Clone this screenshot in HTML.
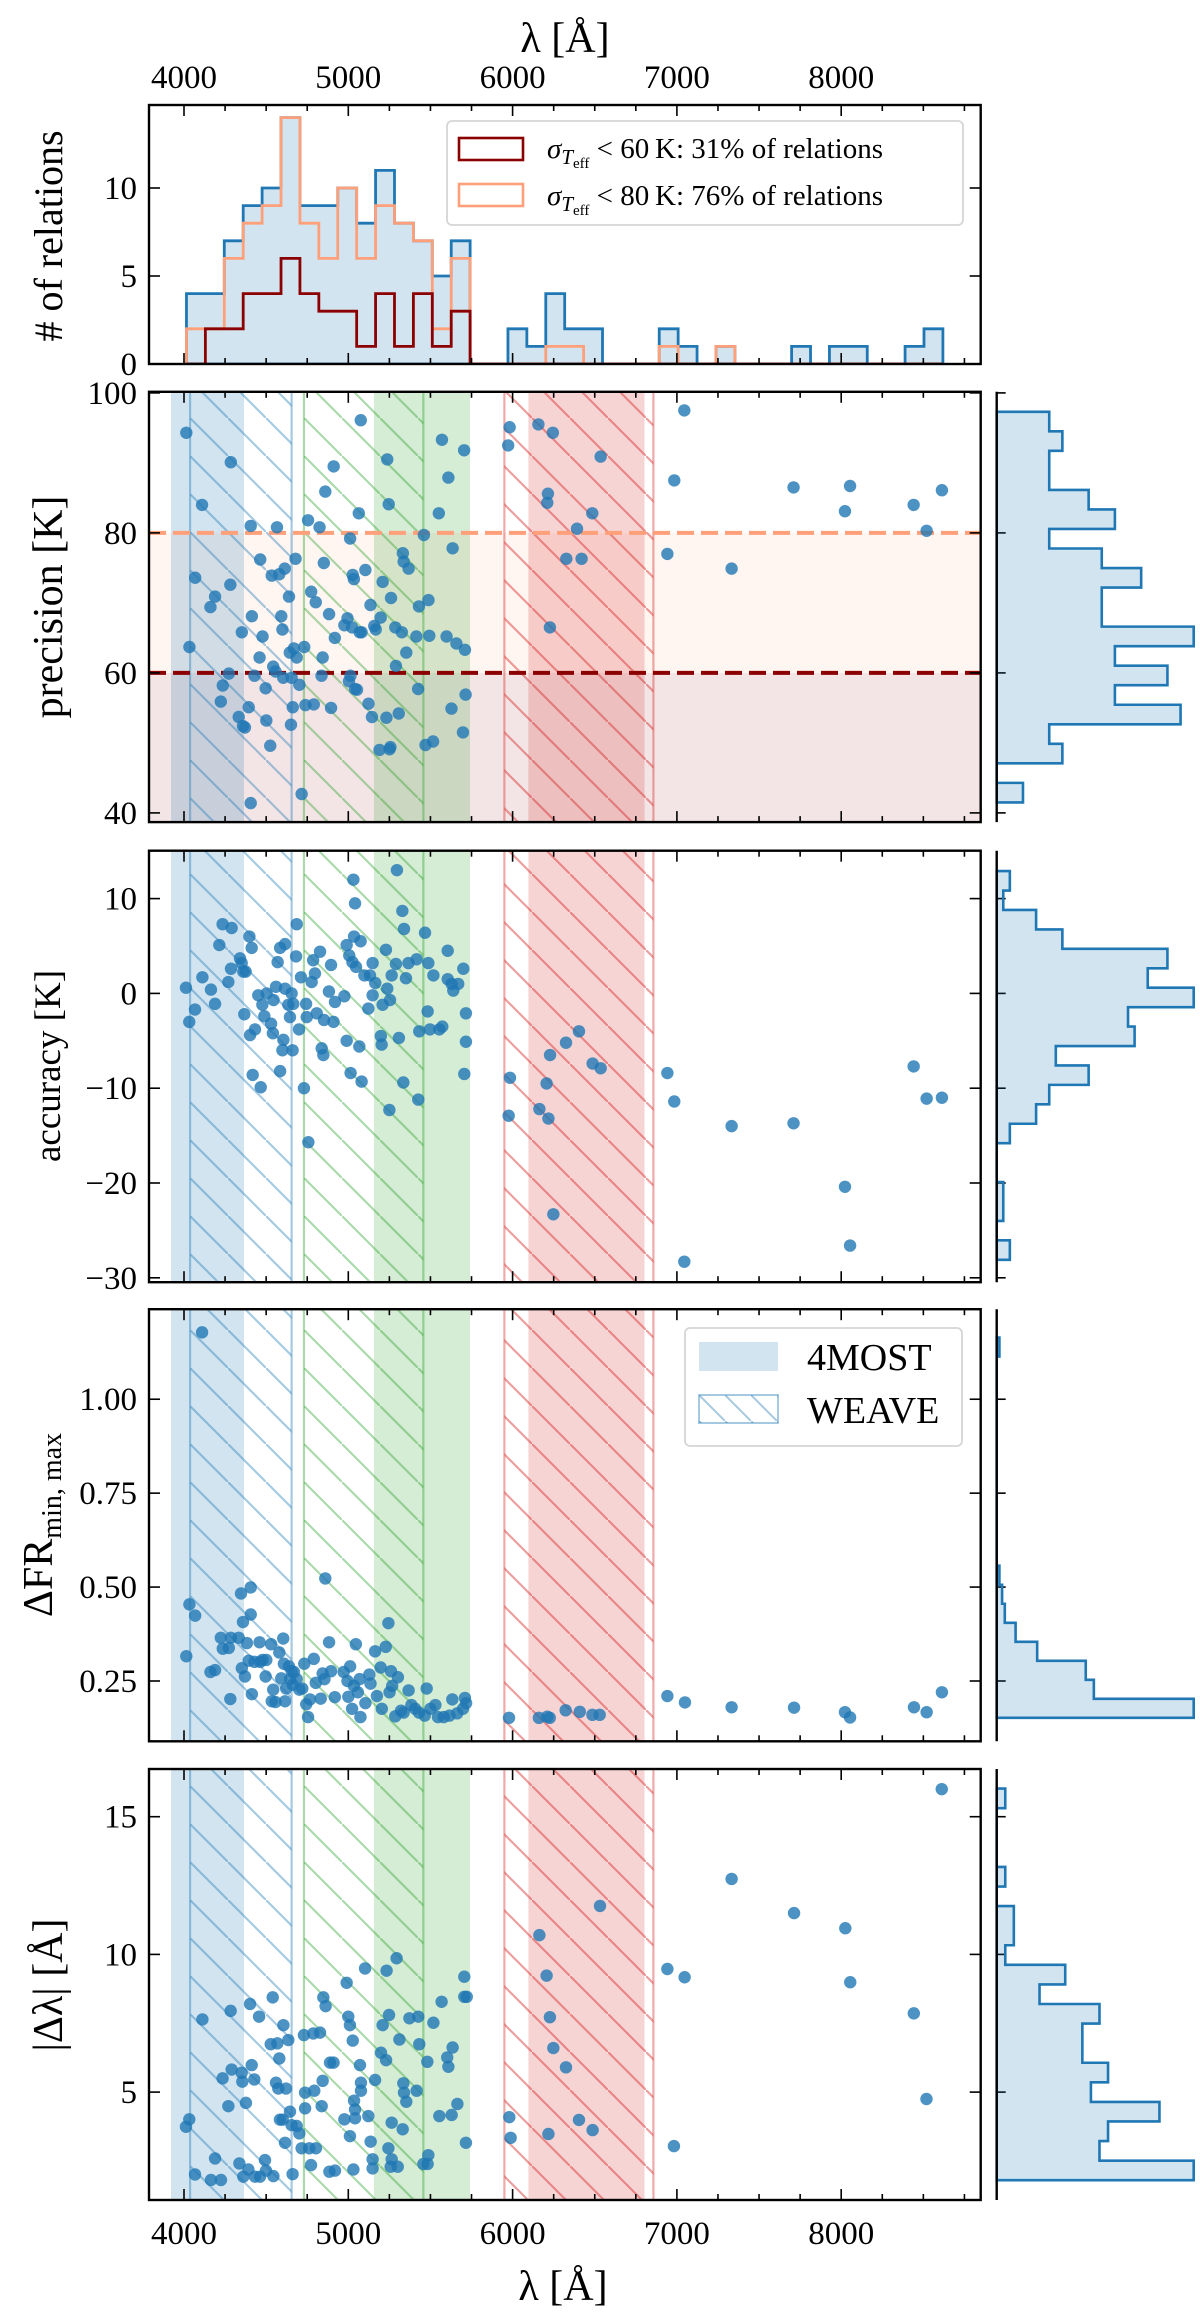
<!DOCTYPE html>
<html><head><meta charset="utf-8"><title>Spectral relations overview</title>
<style>
html,body{margin:0;padding:0;background:#fff;}
svg{display:block;font-family:"Liberation Serif","DejaVu Serif",serif;}
</style></head>
<body>
<svg id="fig" xmlns="http://www.w3.org/2000/svg" width="1200" height="2321" viewBox="0 0 1200 2321">
<defs>
<pattern id="hatch-b" patternUnits="userSpaceOnUse" width="38" height="38"><path d="M-5,-5 L43,43" stroke="#1f77b4" stroke-opacity="0.4" stroke-width="2.2"/></pattern>
<pattern id="hatch-g" patternUnits="userSpaceOnUse" width="38" height="38"><path d="M-5,-5 L43,43" stroke="#2ca02c" stroke-opacity="0.4" stroke-width="2.2"/></pattern>
<pattern id="hatch-r" patternUnits="userSpaceOnUse" width="38" height="38"><path d="M-5,-5 L43,43" stroke="#d62728" stroke-opacity="0.45" stroke-width="2.2"/></pattern>
<pattern id="hatch-leg" patternUnits="userSpaceOnUse" width="26" height="26" x="699" y="1395"><path d="M-5,-5 L31,31" stroke="#1f77b4" stroke-opacity="0.4" stroke-width="2"/></pattern>
</defs>
<g id="layer"></g>
</svg>
<script>
// ---------- data ----------
const histStart = 4015;
const histWidth = 115.1;
const histAll = [4,4,7,9,10,14,9,9,10,8,11,8,7,5,7,0,0,2,1,4,2,2,0,0,0,2,1,0,1,0,0,0,1,0,1,1,0,0,1,2];
const hist80 = [2,2,6,8,9,14,8,6,10,6,9,8,7,2,6,0,0,0,0,1,1,0,0,0,0,1,0,0,1,0,0,0,0,0,0,0,0,0,0,0];
const hist60 = [0,2,2,4,4,6,4,3,3,1,4,1,4,1,3,0,0,0,0,0,0,0,0,0,0,0,0,0,0,0,0,0,0,0,0,0,0,0,0,0];

const precLam = [4014,4033,4068,4110,4161,4189,4224,4236,4273,4282,4285,4333,4352,4359,4371,4394,4406,4413,4429,4460,4464,4478,4497,4501,4525,4534,4543,4557,4566,4580,4592,4599,4604,4613,4639,4644,4651,4655,4662,4669,4679,4686,4702,4716,4732,4739,4755,4774,4790,4802,4825,4837,4844,4851,4860,4883,4895,4911,4918,4976,4995,5004,5011,5013,5023,5027,5034,5041,5053,5064,5069,5076,5081,5104,5123,5135,5144,5158,5167,5190,5197,5209,5232,5237,5246,5251,5256,5260,5286,5290,5307,5326,5332,5337,5353,5367,5414,5425,5430,5460,5470,5488,5493,5516,5551,5570,5598,5609,5628,5635,5658,5698,5705,5710,5714,4406,5973,5982,6157,6215,6211,6227,6245,6327,6392,6420,6485,6536,7045,6984,6942,7333,7710,8054,8023,8441,8520,8613];
const precVal = [94.3,63.7,73.6,84.0,69.4,70.9,55.9,58.2,59.9,72.6,90.1,53.7,65.8,52.4,52.2,55.1,81.0,68.1,59.6,62.2,76.2,65.2,57.8,53.2,49.6,73.9,60.9,60.2,80.8,74.1,68.1,66.2,59.3,74.9,70.9,62.9,52.6,59.3,55.1,63.5,76.3,62.2,58.3,42.7,63.7,55.4,81.8,71.6,55.5,70.1,80.8,59.6,62.2,75.7,85.9,68.4,55.0,89.5,65.0,66.8,67.8,58.8,79.2,59.6,66.5,74.0,73.4,57.7,57.6,82.8,65.8,96.1,65.8,74.7,55.6,69.7,53.7,66.7,66.2,49.0,67.9,73.0,53.6,90.5,84.1,49.1,49.4,70.7,66.5,61.0,54.2,65.8,77.1,75.9,62.9,74.9,65.2,57.7,69.5,79.7,49.7,70.4,65.3,50.2,82.8,93.3,65.2,87.9,54.9,77.8,64.2,51.5,91.8,63.3,56.9,41.4,92.5,95.1,95.5,85.6,84.3,66.5,94.3,76.3,80.6,76.3,82.8,90.9,97.5,87.5,77.0,74.9,86.5,86.7,83.1,84.0,80.3,86.1];

const accLam = [4012,4032,4067,4112,4164,4189,4215,4235,4270,4290,4286,4341,4351,4361,4375,4367,4398,4412,4402,4418,4432,4452,4467,4477,4489,4503,4530,4541,4545,4560,4570,4585,4585,4599,4605,4615,4615,4635,4645,4655,4661,4665,4682,4686,4700,4712,4730,4743,4747,4757,4777,4786,4797,4808,4828,4838,4848,4852,4882,4895,4910,4919,4976,4990,4990,5006,5014,5025,5031,5035,5041,5047,5067,5075,5081,5098,5122,5132,5148,5148,5164,5198,5203,5209,5229,5237,5250,5254,5264,5290,5296,5308,5329,5335,5339,5351,5366,5416,5426,5432,5467,5483,5487,5497,5518,5554,5572,5605,5605,5629,5639,5669,5700,5706,5716,5716,5984,5976,6163,6218,6207,6228,6248,6325,6404,6487,6536,6942,6984,7333,7710,8023,8054,7045,8441,8520,8613];
const accVal = [0.6,-3.0,-1.7,1.7,0.4,-1.1,5.1,7.3,1.2,6.9,2.6,3.7,3.2,2.3,2.3,-2.2,6.0,4.8,-4.4,-8.6,-3.8,-0.2,-9.9,-1.2,-2.4,0,-3.2,-4.2,-0.7,0.7,3.3,4.8,-8.2,-6.0,-4.9,5.2,0.5,-1.2,-2.5,0,-6.0,-1.1,3.9,7.3,-3.8,1.7,-10.0,-1.1,-2.5,-15.7,1.2,3.5,2.1,-2.1,4.4,-5.8,-6.5,-2.8,0.2,3.0,-3.0,-0.9,-0.3,5.1,-5.0,4.0,-8.4,3.3,12.0,6.0,9.5,2.8,-5.6,5.5,-9.3,1.9,-1.6,1.9,3.2,-0.2,1.1,-4.5,-5.4,-1.2,4.6,0.5,-12.3,-0.7,1.9,3.1,13.0,-4.7,8.7,-9.4,6.8,1.6,3.2,3.6,-11.2,-4.0,6.4,-1.9,3.2,-3.8,1.9,-3.8,-3.5,4.5,1.5,1.0,0.3,1.0,2.6,-8.5,-2.1,-5.1,-8.9,-12.9,-12.2,-13.2,-9.5,-6.5,-23.3,-5.2,-4.0,-7.4,-7.9,-8.4,-11.4,-14.0,-13.7,-20.4,-26.6,-28.3,-7.7,-11.1,-11.0];

const frLam = [4014,4033,4068,4110,4161,4189,4224,4236,4273,4282,4285,4333,4347,4352,4359,4371,4383,4394,4406,4406,4413,4429,4460,4464,4478,4497,4501,4530,4534,4543,4557,4580,4592,4604,4608,4615,4622,4639,4646,4655,4662,4669,4686,4702,4720,4732,4744,4755,4767,4790,4802,4832,4844,4855,4860,4883,4895,4918,4972,4995,5000,5011,5023,5034,5046,5058,5069,5074,5104,5128,5135,5163,5174,5197,5204,5228,5244,5251,5260,5267,5286,5302,5321,5337,5367,5384,5407,5430,5465,5477,5500,5530,5546,5581,5616,5633,5663,5698,5710,5717,5978,6160,6211,6226,6323,6409,6486,6530,6942,7049,7333,7713,8023,8054,8443,8520,8613];
const frVal = [0.316,0.454,0.424,1.178,0.274,0.279,0.365,0.336,0.338,0.202,0.365,0.365,0.483,0.284,0.407,0.262,0.351,0.304,0.499,0.427,0.215,0.301,0.353,0.301,0.306,0.262,0.306,0.348,0.196,0.227,0.194,0.326,0.257,0.363,0.296,0.196,0.230,0.289,0.255,0.276,0.240,0.274,0.255,0.227,0.230,0.296,0.188,0.154,0.201,0.309,0.245,0.203,0.270,0.255,0.523,0.353,0.276,0.207,0.274,0.250,0.208,0.289,0.176,0.237,0.348,0.220,0.255,0.154,0.191,0.267,0.243,0.329,0.210,0.286,0.176,0.341,0.404,0.220,0.276,0.237,0.156,0.260,0.171,0.166,0.225,0.186,0.176,0.166,0.158,0.230,0.176,0.186,0.154,0.154,0.158,0.201,0.164,0.176,0.205,0.191,0.152,0.152,0.155,0.152,0.172,0.168,0.160,0.160,0.210,0.193,0.180,0.179,0.167,0.153,0.180,0.167,0.220];

const dlLam = [4012,4032,4067,4112,4164,4189,4225,4235,4270,4284,4290,4337,4351,4355,4361,4377,4392,4402,4412,4428,4432,4457,4463,4493,4499,4528,4540,4544,4560,4568,4574,4580,4584,4601,4605,4615,4621,4635,4645,4655,4661,4686,4702,4716,4730,4737,4737,4763,4773,4787,4793,4803,4828,4838,4844,4848,4862,4885,4889,4910,4919,4976,4990,5000,5010,5010,5027,5031,5035,5041,5041,5071,5077,5077,5102,5122,5136,5148,5148,5163,5209,5199,5230,5233,5244,5248,5258,5264,5264,5294,5301,5311,5331,5335,5339,5353,5372,5416,5426,5432,5457,5487,5483,5481,5518,5554,5568,5602,5609,5629,5635,5664,5706,5706,5721,5716,6163,6207,6227,6248,6325,6404,6487,6218,5980,5988,6532,8612,7333,7713,8025,6942,7047,8055,8442,8519,6982];
const dlVal = [3.74,4.01,2.01,7.64,1.81,2.59,1.81,5.50,4.49,7.95,5.82,2.41,5.70,5.38,1.93,4.61,2.19,8.20,5.98,5.46,1.93,7.74,1.93,2.53,2.15,6.74,8.44,1.95,5.34,6.77,5.13,6.22,4.00,4.00,7.43,3.16,5.13,6.89,4.29,3.80,2.02,3.77,3.50,2.96,7.07,4.41,4.98,2.96,2.35,7.13,5.05,2.96,7.16,4.49,5.41,8.44,8.12,2.11,6.07,6.07,2.15,4.01,8.97,7.74,7.43,3.40,6.87,2.19,4.69,4.37,4.05,5.98,5.34,5.05,9.49,4.13,3.20,2.56,2.23,5.44,7.43,6.43,6.16,9.41,2.96,7.80,2.29,3.89,2.56,9.86,2.29,6.91,3.65,5.32,4.98,4.65,7.68,5.05,7.74,6.74,2.39,2.71,2.39,6.10,7.52,4.13,8.28,6.26,5.92,4.17,6.62,4.57,9.19,8.46,8.46,3.16,10.7,9.23,7.72,6.6,5.9,3.99,3.62,3.48,4.09,3.34,11.76,16.0,12.74,11.5,10.95,9.47,9.17,8.99,7.86,4.75,3.04];

// side histograms (bottom-up counts)
const precHistStart = 41.5, precHistWidth = 2.79;
const precHist = [2,0,5,4,14,9,13,9,15,8,8,11,8,4,9,7,4,4,5,4];
const accHistStart = -28.1, accHistWidth = 2.05;
const accHist = [2,0,1,1,0,0,2,6,8,14,9,21,20,30,23,26,10,6,1,2];
const frHistStart = 0.152, frHistWidth = 0.0506;
const frHist = [73,36,33,15,7,3,2,1,0,0,0,0,0,0,0,0,0,0,0,1];
const dlHistStart = 1.80, dlHistWidth = 0.711;
const dlHist = [23,12,13,19,11,13,10,10,12,5,8,1,2,2,0,1,0,0,0,1];

// survey ranges (Angstrom)
const fillBands = [[3921,4365,'#1f77b4'],[5156,5741,'#2ca02c'],[6096,6803,'#d62728']];
const hatchBands = [[4037,4655,'hatch-b','#1f77b4'],[4730,5457,'hatch-g','#2ca02c'],[5950,6857,'hatch-r','#d62728']];

const xTicks = [4000,5000,6000,7000,8000];
const xTickLabels = ['4000','5000','6000','7000','8000'];
const histYTicks = [0,5,10];
const precYTicks = [40,60,80,100];
const accYTicks = [10,0,-10,-20,-30];
const accYLabels = ['10','0','\u221210','\u221220','\u221230'];
const frYTicks = [0.25,0.5,0.75,1.0];
const frYLabels = ['0.25','0.50','0.75','1.00'];
const dlYTicks = [5,10,15];

// ---------- scales ----------
const XL = 149, XR = 980.7, HX = 996.7, HMAX = 197;
function xs(l){ return 184 + (l - 4000) * 0.1643; }
const P = {
  hist:{top:105,bot:364,ys:c=>364 - c*17.6},
  prec:{top:391.8,bot:822.1,ys:v=>392.9 + (100-v)*7.0},
  acc:{top:850.7,bot:1282.2,ys:v=>993.4 - v*9.48},
  fr:{top:1309.2,bot:1741.3,ys:v=>1681 - (v-0.25)*375.7},
  dl:{top:1769,bot:2200,ys:v=>1816.7 - (v-15)*27.54}
};
const NS = 'http://www.w3.org/2000/svg';
const root = document.getElementById('layer');
function el(tag, attrs, parent){
  const e = document.createElementNS(NS, tag);
  for (const k in attrs) e.setAttribute(k, attrs[k]);
  (parent||root).appendChild(e);
  return e;
}
function clip(id, p){
  const defs = document.querySelector('defs');
  const c = el('clipPath', {id:id}, defs);
  el('rect', {x:XL, y:p.top, width:XR-XL, height:p.bot-p.top}, c);
}

function xTicksDraw(g, p){
  for (let m = 3750; m <= 8850; m += 250){
    const x = xs(m); if (x < XL+1 || x > XR-1) continue;
    const len = (m % 1000 === 0) ? 11 : 6;
    el('line', {x1:x, y1:p.bot, x2:x, y2:p.bot-len, stroke:'#000','stroke-width':1.6}, g);
    el('line', {x1:x, y1:p.top, x2:x, y2:p.top+len, stroke:'#000','stroke-width':1.6}, g);
  }
}
function yTicksDraw(g, p, ticks, labels, withHist){
  ticks.forEach((t,i)=>{
    const y = p.ys(t);
    el('line', {x1:XL, y1:y, x2:XL+11, y2:y, stroke:'#000','stroke-width':1.6}, g);
    el('line', {x1:XR, y1:y, x2:XR-11, y2:y, stroke:'#000','stroke-width':1.6}, g);
    if (withHist) el('line', {x1:HX, y1:y, x2:HX+9, y2:y, stroke:'#000','stroke-width':1.6}, g);
    const tx = el('text', {x:137, y:y+11, 'text-anchor':'end','font-size':33}, g);
    tx.textContent = labels ? labels[i] : String(t);
  });
}
function bands(g, p){
  fillBands.forEach(b=>{
    const r = el('rect', {x:xs(b[0]), y:p.top, width:xs(b[1])-xs(b[0]), height:p.bot-p.top, fill:b[2], 'fill-opacity':0.2}, g);
    
    
  });
  hatchBands.forEach(b=>{
    const r = el('rect', {x:xs(b[0]), y:p.top, width:xs(b[1])-xs(b[0]), height:p.bot-p.top, fill:'url(#'+b[2]+')'}, g);
    
    
    [b[0],b[1]].forEach(l=>{
      el('line', {x1:xs(l), y1:p.top, x2:xs(l), y2:p.bot, stroke:b[3], 'stroke-opacity':0.4, 'stroke-width':2.2}, g);
    });
  });
}
function scatter(g, p, lam, val, name){
  const n = Math.min(lam.length, val.length);
  for (let i=0;i<n;i++){
    const c = el('circle', {cx:xs(lam[i]), cy:p.ys(val[i]), r:6.2, fill:'#1f77b4', 'fill-opacity':0.8}, g);
    
    
  }
}
function box(g, p){
  el('rect', {x:XL, y:p.top, width:XR-XL, height:p.bot-p.top, fill:'none', stroke:'#000','stroke-width':2.4}, g);
}
function sideHist(g, p, start, width, counts, name){
  const mx = Math.max(...counts);
  const k = HMAX / mx;
  let d = 'M' + HX + ',' + p.ys(start);
  for (let i=0;i<counts.length;i++){
    const y0 = p.ys(start + i*width), y1 = p.ys(start + (i+1)*width);
    const x = HX + counts[i]*k;
    d += ' L' + x + ',' + y0 + ' L' + x + ',' + y1;
  }
  d += ' L' + HX + ',' + p.ys(start + counts.length*width);
  const path = el('path', {d:d+' Z', fill:'#1f77b4','fill-opacity':0.2, stroke:'#1f77b4','stroke-width':2.6,'stroke-linejoin':'miter'}, g);
  
  
  el('line', {x1:HX, y1:p.top, x2:HX, y2:p.bot, stroke:'#000','stroke-width':2.4}, g);
}
function ylabel(g, text, cx, cy, size){
  const t = el('text', {x:0, y:0, 'text-anchor':'middle','font-size':size, transform:'translate('+cx+','+cy+') rotate(-90)'}, g);
  if (typeof text === 'string') t.textContent = text;
  else text(t);
  return t;
}

// ---------- top histogram ----------
(function(){
  const p = P.hist;
  const g = el('g', {});
  
  
  clip('c-hist', p);
  const gi = el('g', {'clip-path':'url(#c-hist)'}, g);
  function stepPath(counts){
    let d = 'M' + xs(histStart) + ',' + p.ys(0);
    counts.forEach((c,i)=>{
      const x0 = xs(histStart + i*histWidth), x1 = xs(histStart + (i+1)*histWidth);
      d += ' L' + x0 + ',' + p.ys(c) + ' L' + x1 + ',' + p.ys(c);
    });
    d += ' L' + xs(histStart + counts.length*histWidth) + ',' + p.ys(0);
    return d;
  }
  const f = el('path', {d:stepPath(histAll)+' Z', fill:'#1f77b4','fill-opacity':0.2, stroke:'#1f77b4','stroke-width':2.8}, gi);
  
  
  const o = el('path', {d:stepPath(hist80), fill:'none', stroke:'#ffa07a','stroke-width':2.8}, gi);
  
  
  const r = el('path', {d:stepPath(hist60), fill:'none', stroke:'#8b0000','stroke-width':2.8}, gi);
  
  
  xTicksDraw(g, p);
  yTicksDraw(g, p, histYTicks, null, false);
  box(g, p);
  xTicks.forEach((t,i)=>{
    const tx = el('text', {x:xs(t), y:88, 'text-anchor':'middle','font-size':33}, g);
    tx.textContent = xTickLabels[i];
  });
  const tl = el('text', {x:565, y:52, 'text-anchor':'middle','font-size':42}, g);
  tl.textContent = '\u03bb [\u00c5]';
  
  
  const yl = ylabel(g, '# of relations', 62, 236, 40);
  
  
  // legend
  const lg = el('g', {}, g);
  
  
  el('rect', {x:447, y:121, width:516, height:104, rx:5, fill:'#fff','fill-opacity':0.85, stroke:'#d5d5d5','stroke-width':1.8}, lg);
  el('rect', {x:459, y:138, width:64, height:22, fill:'none', stroke:'#8b0000','stroke-width':2.6}, lg);
  el('rect', {x:459, y:184, width:64, height:22, fill:'none', stroke:'#ffa07a','stroke-width':2.6}, lg);
  [[158,'60','31'],[205,'80','76']].forEach(r=>{
    const t = el('text', {x:547, y:r[0], 'font-size':29}, lg);
    const a = el('tspan', {'font-style':'italic'}, t); a.textContent = '\u03c3';
    const b = el('tspan', {'font-style':'italic','font-size':21, dy:6}, t); b.textContent = 'T';
    const c = el('tspan', {'font-size':15, dy:4}, t); c.textContent = 'eff';
    const d2 = el('tspan', {dy:-10}, t); d2.textContent = ' < ' + r[1] + '\u2009K: ' + r[2] + '% of relations';
  });
})();

// ---------- scatter panels ----------
function panel(key, lam, val, ticks, labels, hist, name){
  const p = P[key];
  const g = el('g', {});
  
  
  clip('c-'+key, p);
  const gi = el('g', {'clip-path':'url(#c-'+key+')'}, g);
  if (key === 'prec'){
    el('rect', {x:XL, y:p.ys(80), width:XR-XL, height:p.ys(60)-p.ys(80), fill:'#ffa07a','fill-opacity':0.1}, gi);
    el('rect', {x:XL, y:p.ys(60), width:XR-XL, height:p.bot-p.ys(60), fill:'#8b0000','fill-opacity':0.1}, gi);
  }
  bands(gi, p);
  if (key === 'prec'){
    const l1 = el('line', {x1:XL, y1:p.ys(80), x2:XR, y2:p.ys(80), stroke:'#ffa07a','stroke-width':4,'stroke-dasharray':'17 7'}, gi);
    
    
    const l2 = el('line', {x1:XL, y1:p.ys(60), x2:XR, y2:p.ys(60), stroke:'#8b0000','stroke-width':4,'stroke-dasharray':'17 7'}, gi);
    
    
  }
  scatter(gi, p, lam, val, name);
  xTicksDraw(g, p);
  yTicksDraw(g, p, ticks, labels, true);
  box(g, p);
  sideHist(g, p, hist[0], hist[1], hist[2], name + '-side-histogram');
  return g;
}
const gp = panel('prec', precLam, precVal, precYTicks, null, [precHistStart, precHistWidth, precHist], 'precision');
const yl1 = ylabel(gp, 'precision [K]', 62, 607, 42);



const ga = panel('acc', accLam, accVal, accYTicks, accYLabels, [accHistStart, accHistWidth, accHist], 'accuracy');
const yl2 = ylabel(ga, 'accuracy [K]', 60, 1066, 37);



const gf = panel('fr', frLam, frVal, frYTicks, frYLabels, [frHistStart, frHistWidth, frHist], 'delta-fr');
const yl3 = ylabel(gf, function(t){
  const a = el('tspan', {}, t); a.textContent = '\u0394FR';
  const b = el('tspan', {'font-size':28, dy:9}, t); b.textContent = 'min, max';
}, 52, 1525, 42);


// legend in delta-FR panel
(function(){
  const lg = el('g', {}, gf);
  
  
  el('rect', {x:685, y:1328, width:277, height:118, rx:5, fill:'#fff','fill-opacity':0.85, stroke:'#d5d5d5','stroke-width':1.8}, lg);
  el('rect', {x:699, y:1342, width:79, height:29, fill:'#1f77b4','fill-opacity':0.2}, lg);
  el('rect', {x:699, y:1395, width:79, height:28, fill:'url(#hatch-leg)', stroke:'#1f77b4','stroke-opacity':0.4,'stroke-width':2}, lg);
  const t1 = el('text', {x:807, y:1370, 'font-size':38}, lg); t1.textContent = '4MOST';
  const t2 = el('text', {x:807, y:1423, 'font-size':38}, lg); t2.textContent = 'WEAVE';
})();

const gd = panel('dl', dlLam, dlVal, dlYTicks, null, [dlHistStart, dlHistWidth, dlHist], 'delta-lambda');
const yl4 = ylabel(gd, '|\u0394\u03bb| [\u00c5]', 62, 1985, 42);


xTicks.forEach((t,i)=>{
  const tx = el('text', {x:xs(t), y:2244, 'text-anchor':'middle','font-size':33}, gd);
  tx.textContent = xTickLabels[i];
});
const xl = el('text', {x:563, y:2300, 'text-anchor':'middle','font-size':42}, gd);
xl.textContent = '\u03bb [\u00c5]';


</script>
</body></html>
